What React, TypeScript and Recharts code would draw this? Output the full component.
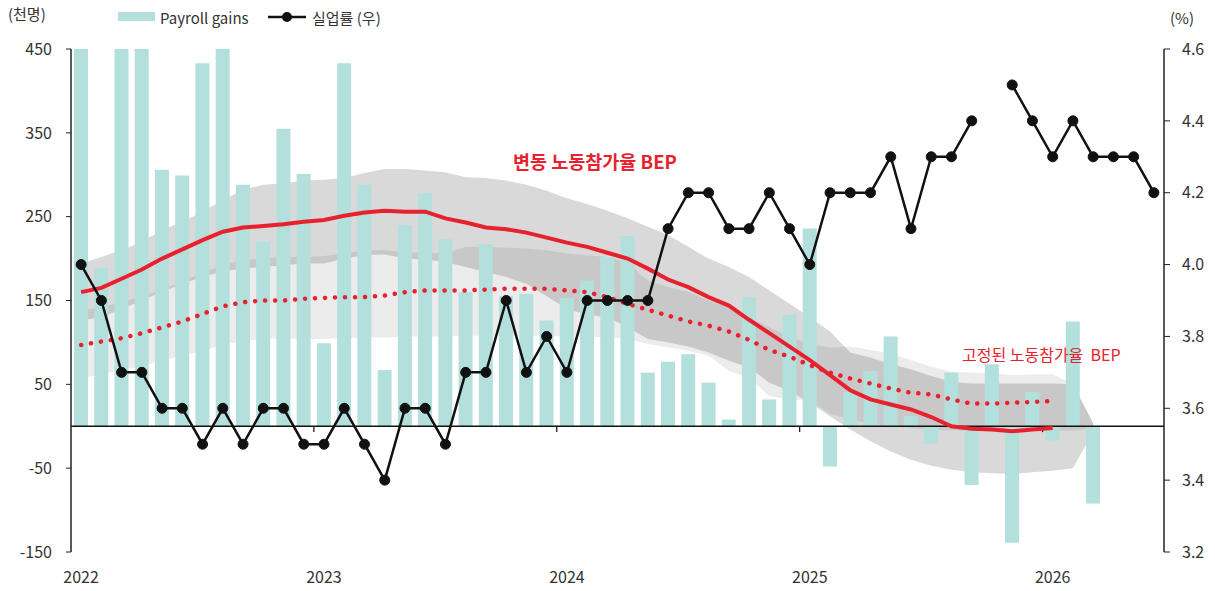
import React from 'react'
import { ComposedChart, Bar, Line, Area, XAxis, YAxis, ReferenceLine } from 'recharts'

// monthly categories, Jan 2022 .. Jun 2026
const months: string[] = []
for (let y = 2022; y <= 2026; y++) {
  for (let m = 1; m <= 12; m++) {
    if (y === 2026 && m > 6) break
    months.push(`${y}-${String(m).padStart(2, '0')}`)
  }
}

// 천명
const payroll = [
  450, 189, 450, 450, 306, 299, 433, 450, 288, 220, 355, 301,
  99, 433, 288, 67, 240, 278, 223, 160, 217, 155, 158, 126,
  153, 174, 202, 227, 64, 77, 86, 52, 8, 154, 32, 133,
  236, -48, 41, 66, 107, 12, -21, 64, -70, 74, -139, 41,
  -17, 125, -92, null, null, null,
]

// %
const unemployment = [
  4.0, 3.9, 3.7, 3.7, 3.6, 3.6, 3.5, 3.6, 3.5, 3.6, 3.6, 3.5,
  3.5, 3.6, 3.5, 3.4, 3.6, 3.6, 3.5, 3.7, 3.7, 3.9, 3.7, 3.8,
  3.7, 3.9, 3.9, 3.9, 3.9, 4.1, 4.2, 4.2, 4.1, 4.1, 4.2, 4.1,
  4.0, 4.2, 4.2, 4.2, 4.3, 4.1, 4.3, 4.3, 4.4, null, 4.5, 4.4,
  4.3, 4.4, 4.3, 4.3, 4.3, 4.2,
]

// 변동 노동참가율 BEP
const bepVariable = [
  160, 165, 176, 187, 200, 211, 222, 232, 237, 239, 241, 244,
  246, 251, 255, 257, 256, 256, 248, 243, 237, 235, 231, 225,
  219, 214, 207, 200, 188, 175, 166, 154, 144, 127, 111, 95,
  79, 61, 43, 32, 26, 20, 11, 0, -3, -4, -6, -4, -2,
]

// 고정된 노동참가율 BEP
const bepFixed = [
  97, 101, 105, 111, 118, 125, 134, 143, 148, 150, 150, 152,
  153, 154, 154, 156, 160, 162, 162, 162, 163, 164, 164, 164,
  162, 160, 154, 146, 139, 132, 125, 120, 113, 103, 91, 83,
  73, 64, 57, 51, 45, 40, 38, 32, 27, 27, 28, 29, 30,
]

// uncertainty band around the variable BEP
const varBandLow = [
  126, 130, 140, 150, 160, 170, 178, 185, 188, 190, 192, 194,
  194, 200, 204, 205, 200, 199, 196, 190, 184, 178, 170, 155,
  140, 133, 130, 118, 104, 100, 95, 88, 78, 70, 52, 42,
  28, 12, -4, -18, -30, -40, -47, -52, -55, -56, -57, -55, -53, -50, -7,
]
const varBandHigh = [
  194, 202, 210, 220, 234, 244, 256, 270, 282, 288, 290, 293,
  294, 296, 302, 307, 307, 305, 303, 297, 296, 293, 288, 281,
  272, 265, 257, 248, 238, 228, 214, 200, 190, 178, 162, 146,
  130, 113, 88, 82, 74, 68, 60, 53, 51, 51, 51, 51, 51, 50, 4,
]

// uncertainty band around the fixed BEP
const fixBandLow = [
  57, 62, 67, 72, 78, 84, 90, 97, 102, 104, 105, 104,
  104, 105, 106, 106, 107, 107, 107, 108, 108, 108, 108, 108,
  107, 107, 106, 104, 98, 94, 90, 84, 66, 58, 36, 32,
  30, 15, 8, 3, 0, -2, -4, -5, -5, -5, -5, -5, -5, -5, -3,
]
const fixBandHigh = [
  138, 142, 148, 155, 163, 173, 183, 192, 198, 200, 202, 202,
  203, 206, 210, 210, 208, 207, 206, 214, 214, 213, 212, 210,
  206, 204, 202, 195, 174, 166, 160, 150, 142, 130, 118, 107,
  98, 94, 95, 91, 87, 79, 71, 65, 64, 63, 61, 62, 62, 50, 4,
]

const leftTicks = [-150, -50, 50, 150, 250, 350, 450]
const rightTicks = [3.2, 3.4, 3.6, 3.8, 4.0, 4.2, 4.4, 4.6]
const yearStarts = ['2023-01', '2024-01', '2025-01', '2026-01']

const data = months.map((m, i) => ({
  month: m,
  payroll: payroll[i],
  unemp: unemployment[i],
  bepVar: bepVariable[i] ?? null,
  bepFix: bepFixed[i] ?? null,
  varBand: i < varBandLow.length ? [varBandLow[i], varBandHigh[i]] : null,
  fixBand: i < fixBandLow.length ? [fixBandLow[i], fixBandHigh[i]] : null,
}))

const FONT = "'Noto Sans CJK KR', 'Noto Sans', sans-serif"
const RED = '#e8212e'
const TEAL = '#b3e0dd'
const INK = '#333'

function Txt({ left, cy, size, children, style }: any) {
  return (
    <div style={{ position: 'absolute', left, top: cy - size * 0.7, fontSize: size, lineHeight: `${size * 1.4}px`, whiteSpace: 'pre', ...style }}>
      {children}
    </div>
  )
}

export default function App() {
  return (
    <div style={{ position: 'absolute', left: 0, top: 0, width: 1215, height: 591, fontFamily: FONT, background: '#fff' }}>
      <ComposedChart width={1215} height={591} data={data} margin={{ top: 49, right: 0, bottom: 9, left: 11 }}>
        <XAxis dataKey="month" interval={11} tickLine={false} axisLine={false} tickSize={0} tickMargin={20} height={30}
          tickFormatter={(m: string) => m.slice(0, 4)} tick={{ fontSize: 16, fill: INK }} />
        <YAxis yAxisId="left" domain={[-150, 450]} ticks={leftTicks} allowDataOverflow width={60}
          tick={{ fontSize: 16, fill: INK }} tickSize={5} tickMargin={14}
          axisLine={{ stroke: '#222', strokeWidth: 1.5 }} tickLine={{ stroke: '#222' }} />
        <YAxis yAxisId="right" orientation="right" domain={[3.2, 4.6]} ticks={rightTicks} allowDataOverflow width={51}
          tickFormatter={(v: number) => v.toFixed(1)} tick={{ fontSize: 16, fill: INK }} tickSize={6} tickMargin={12}
          axisLine={{ stroke: '#222', strokeWidth: 1.5 }} tickLine={{ stroke: '#222' }} />

        <Area yAxisId="left" dataKey="varBand" type="linear" fill="#000" fillOpacity={0.15} stroke="none"
          dot={false} activeDot={false} isAnimationActive={false} />
        <Area yAxisId="left" dataKey="fixBand" type="linear" fill="#000" fillOpacity={0.075} stroke="none"
          dot={false} activeDot={false} isAnimationActive={false} />

        <Bar yAxisId="left" dataKey="payroll" fill={TEAL} barSize={14} isAnimationActive={false} />

        <ReferenceLine yAxisId="left" y={0} stroke="#111" strokeWidth={1.5} />
        {yearStarts.map((m) => (
          <ReferenceLine key={m} yAxisId="left" position="start" stroke="#111" strokeWidth={1.2}
            segment={[{ x: m, y: 0 }, { x: m, y: -7 }]} />
        ))}

        <Line yAxisId="left" dataKey="bepFix" type="linear" stroke={RED} strokeWidth={4.5} strokeDasharray="0.1 9.9"
          strokeLinecap="round" dot={false} activeDot={false} isAnimationActive={false} />
        <Line yAxisId="left" dataKey="bepVar" type="linear" stroke={RED} strokeWidth={4}
          dot={false} activeDot={false} isAnimationActive={false} />
        <Line yAxisId="right" dataKey="unemp" type="linear" stroke="#111" strokeWidth={2.5}
          dot={{ r: 5, fill: '#111', stroke: '#111', strokeWidth: 1 }} activeDot={false} isAnimationActive={false} />
      </ComposedChart>

      {/* units */}
      <Txt left={8} cy={13} size={15} style={{ color: INK }}>(천명)</Txt>
      <Txt left={1170} cy={17} size={15} style={{ color: INK }}>(%)</Txt>

      {/* legend */}
      <div style={{ position: 'absolute', left: 118, top: 12, width: 37, height: 9, background: TEAL }} />
      <Txt left={160} cy={17} size={15} style={{ color: INK }}>Payroll gains</Txt>
      <svg style={{ position: 'absolute', left: 266, top: 8 }} width={42} height={18}>
        <line x1={2} y1={9} x2={40} y2={9} stroke="#111" strokeWidth={2.5} />
        <circle cx={21} cy={9} r={5} fill="#111" />
      </svg>
      <Txt left={312} cy={17} size={15} style={{ color: INK }}>실업률 (우)</Txt>

      {/* annotations */}
      <Txt left={513} cy={162} size={18.5} style={{ color: RED, fontWeight: 600 }}>변동 노동참가율 BEP</Txt>
      <Txt left={962} cy={354} size={16} style={{ color: RED }}>고정된 노동참가율  BEP</Txt>
    </div>
  )
}
